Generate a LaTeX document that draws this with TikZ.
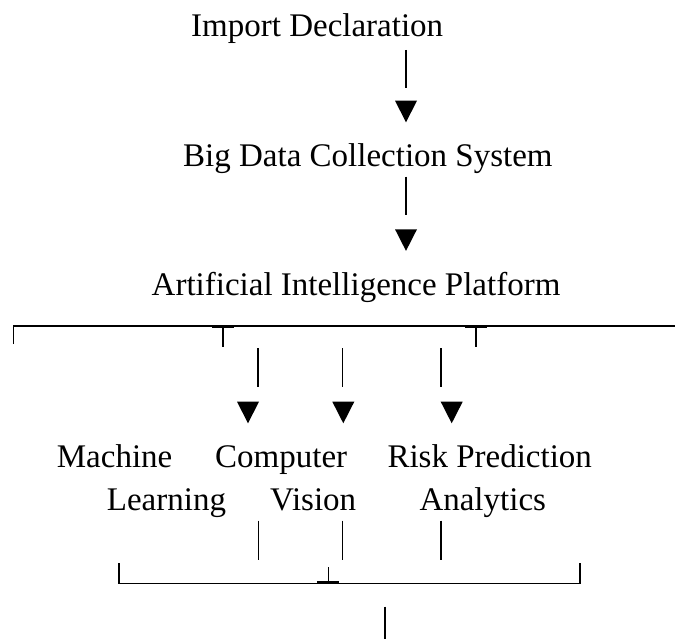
\documentclass[tikz,border=0pt]{standalone}
\usepackage{fontspec}
\setmainfont{Liberation Serif}
\newcommand\mytridown[1]{\fill[black] (#1) ++(-11,0) -- ++(22,0) -- ++(-11,21.6) -- cycle;}
\begin{document}
\begin{tikzpicture}[x=1pt,y=-1pt,
  lbl/.style={anchor=base west,inner sep=0pt,font=\fontsize{33}{40}\selectfont},
  bar/.style={line width=1.6pt},
  hline/.style={line width=1.3pt},
  joint/.style={line width=2.8pt}]
\fill[white] (0,0) rectangle (675,639);
\useasboundingbox (0,0) rectangle (675,639);

% text nodes
\node[lbl] (imp) at (191,37) {Import Declaration};
\node[lbl] (bdc) at (183,166.7) {Big Data Collection System};
\node[lbl] (aip) at (151.5,295) {Artificial Intelligence Platform};
\node[lbl] (ml1) at (56.7,467.3) {Machine};
\node[lbl] (ml2) at (106.7,510) {Learning};
\node[lbl] (cv1) at (215,467.3) {Computer};
\node[lbl] (cv2) at (270,510) {Vision};
\node[lbl] (rp1) at (387.3,467.3) {Risk Prediction};
\node[lbl] (rp2) at (419.3,510) {Analytics};

% coordinates of the connector pieces
\coordinate (b1a) at (406,50);    \coordinate (b1b) at (406,87.7);
\coordinate (t1) at (406,100.7);
\coordinate (b2a) at (406,176.7); \coordinate (b2b) at (406,215);
\coordinate (t2) at (406,229.3);

% top bracket
\coordinate (tl) at (13.3,326);   \coordinate (tld) at (13.3,344);
\coordinate (tr) at (675,326);
\coordinate (j1) at (223,326);    \coordinate (j1d) at (223,346.7);
\coordinate (j2) at (475.7,326);  \coordinate (j2d) at (475.7,346.7);

% branch bars and heads
\coordinate (u1a) at (257.7,348.3); \coordinate (u1b) at (257.7,386.7);
\coordinate (u2a) at (342.3,348.3); \coordinate (u2b) at (342.3,386.7);
\coordinate (u3a) at (441,348.3);   \coordinate (u3b) at (441,386.7);
\coordinate (h1) at (248,401.7);
\coordinate (h2) at (343.3,401.7);
\coordinate (h3) at (451.7,401.7);

% lower bars
\coordinate (l1a) at (258.3,520.7); \coordinate (l1b) at (258.3,560);
\coordinate (l2a) at (342.3,520.7); \coordinate (l2b) at (342.3,560);
\coordinate (l3a) at (441,520.7);   \coordinate (l3b) at (441,560);

% bottom bracket
\coordinate (bl) at (119,583.3);  \coordinate (blu) at (119,563.3);
\coordinate (br) at (580,583.3);  \coordinate (bru) at (580,563.3);
\coordinate (k) at (328.3,583.3); \coordinate (ku) at (328.3,567.3);
\coordinate (out1) at (385,606.7); \coordinate (out2) at (385,639);

% draw
\draw[bar] (b1a) -- (b1b);
\mytridown{t1}
\draw[bar] (b2a) -- (b2b);
\mytridown{t2}

\draw[hline] (tld) -- (tl) -- (tr);
\draw[joint] ([xshift=-11pt,yshift=-0.8pt]j1) -- ([xshift=11pt,yshift=-0.8pt]j1);
\draw[joint] ([xshift=-11pt,yshift=-0.8pt]j2) -- ([xshift=11pt,yshift=-0.8pt]j2);
\draw[bar] (j1) -- (j1d);
\draw[bar] (j2) -- (j2d);

\draw[bar] (u1a) -- (u1b);
\draw[bar] (u2a) -- (u2b);
\draw[bar] (u3a) -- (u3b);
\mytridown{h1}
\mytridown{h2}
\mytridown{h3}

\draw[bar] (l1a) -- (l1b);
\draw[bar] (l2a) -- (l2b);
\draw[bar] (l3a) -- (l3b);

\draw[hline] (blu) -- (bl) -- (br) -- (bru);
\draw[joint] ([xshift=-11pt,yshift=1pt]k) -- ([xshift=11pt,yshift=1pt]k);
\draw[bar] (ku) -- (k);
\draw[bar] (out1) -- (out2);
\end{tikzpicture}
\end{document}
